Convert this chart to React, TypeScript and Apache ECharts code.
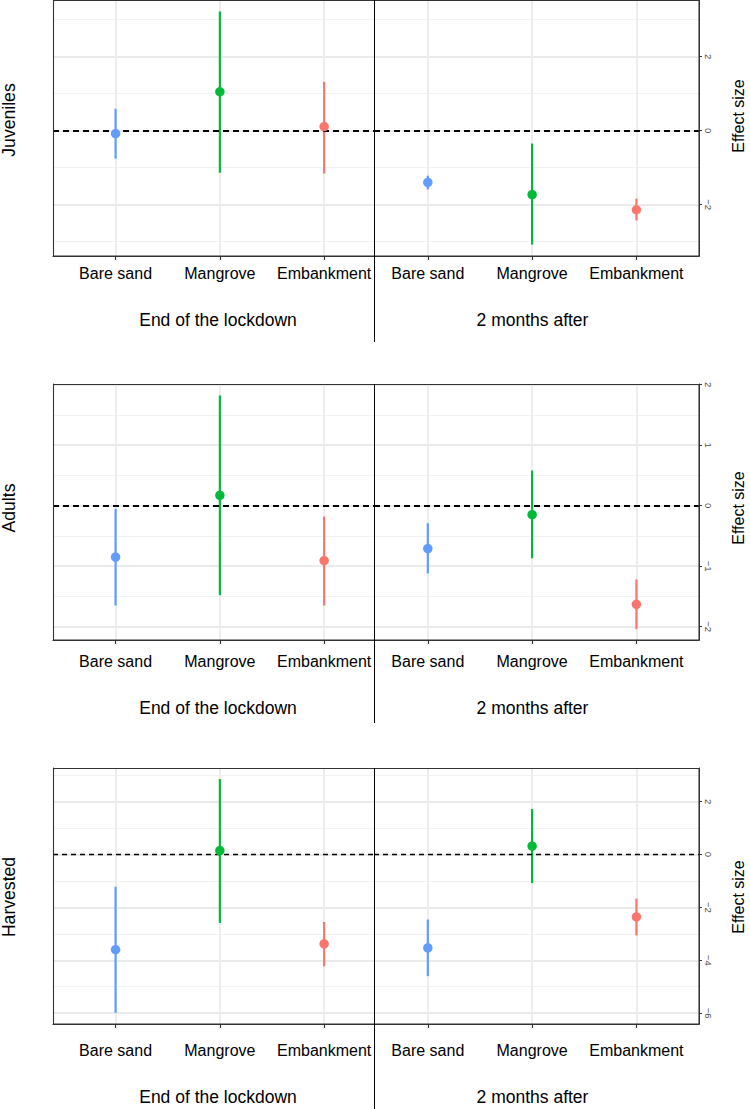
import React, { useEffect, useRef } from "react";
import * as echarts from "echarts";

// ---- data ----
const categories = ["Bare sand", "Mangrove", "Embankment"];
const periods = ["End of the lockdown", "2 months after"];
const groups = ["Juveniles", "Adults", "Harvested"];
const categoryColors = ["#619CFF", "#00BA38", "#F8766D"];

const juvenilesEndEst = [-0.08, 1.05, 0.11];
const juvenilesEndLow = [-0.76, -1.14, -1.16];
const juvenilesEndHigh = [0.59, 3.22, 1.32];
const juvenilesAfterEst = [-1.4, -1.73, -2.14];
const juvenilesAfterLow = [-1.59, -3.08, -2.43];
const juvenilesAfterHigh = [-1.22, -0.35, -1.84];

const adultsEndEst = [-0.85, 0.17, -0.91];
const adultsEndLow = [-1.65, -1.48, -1.65];
const adultsEndHigh = [-0.05, 1.82, -0.18];
const adultsAfterEst = [-0.71, -0.15, -1.63];
const adultsAfterLow = [-1.12, -0.87, -2.04];
const adultsAfterHigh = [-0.29, 0.58, -1.22];

const harvestedEndEst = [-3.6, 0.15, -3.38];
const harvestedEndLow = [-5.99, -2.59, -4.23];
const harvestedEndHigh = [-1.22, 2.85, -2.55];
const harvestedAfterEst = [-3.53, 0.32, -2.36];
const harvestedAfterLow = [-4.6, -1.08, -3.06];
const harvestedAfterHigh = [-2.46, 1.72, -1.67];

const yMins = [-3.39, -2.22, -6.41];
const yMaxs = [3.53, 2.01, 3.27];
const yMajorTicks = [
  [-2, 0, 2],
  [-2, -1, 0, 1, 2],
  [-6, -4, -2, 0, 2],
];
const yMinorTicks = [
  [-3, -1, 1, 3],
  [-1.5, -0.5, 0.5, 1.5],
  [-5, -3, -1, 1, 3],
];
const referenceValue = 0;

// ---- layout ----
const FONT = "Liberation Sans, Arial, Helvetica, sans-serif";
const panelTops = [0, 384, 768];
const panelHeight = 256;
const dividerEnds = [342, 723, 1109];
const xLabelMargins = [9, 13, 18];
const xTitleY = [320, 708, 1097];
const rowLabelY = [120, 508, 897];
const effectLabelY = [116, 508, 897];
const dashWidths = [1.8, 1.8, 1.3];
const dashPatterns = [
  [6, 4],
  [6, 4],
  [5, 4],
];

const panels = [
  [
    { est: juvenilesEndEst, lo: juvenilesEndLow, hi: juvenilesEndHigh },
    { est: juvenilesAfterEst, lo: juvenilesAfterLow, hi: juvenilesAfterHigh },
  ],
  [
    { est: adultsEndEst, lo: adultsEndLow, hi: adultsEndHigh },
    { est: adultsAfterEst, lo: adultsAfterLow, hi: adultsAfterHigh },
  ],
  [
    { est: harvestedEndEst, lo: harvestedEndLow, hi: harvestedEndHigh },
    { est: harvestedAfterEst, lo: harvestedAfterLow, hi: harvestedAfterHigh },
  ],
];

const catPositions = categories.map((_, k) => k + 1);

function buildOption() {
  const grid: any[] = [];
  const xAxis: any[] = [];
  const yAxis: any[] = [];
  const series: any[] = [];
  const graphic: any[] = [];

  groups.forEach((g, r) => {
    [0, 1].forEach((c) => {
      const i = r * 2 + c;
      grid.push(
        c === 0
          ? { left: 53, top: panelTops[r], width: 321, height: panelHeight }
          : { left: 374, top: panelTops[r], width: 325, height: panelHeight }
      );
      xAxis.push({
        gridIndex: i,
        type: "value",
        min: c === 0 ? 0.4 : 0.484,
        max: c === 0 ? 3.478 : 3.6,
        axisLine: { show: true, onZero: false, lineStyle: { color: "#333333", width: 1.2 } },
        axisTick: {
          show: true,
          customValues: catPositions,
          length: 4,
          lineStyle: { color: "#333333", width: 1.2 },
        },
        axisLabel: {
          show: true,
          customValues: catPositions,
          formatter: (v: number) => categories[Math.round(v) - 1] ?? "",
          fontSize: 16,
          color: "#000000",
          fontFamily: FONT,
          margin: xLabelMargins[r],
        },
        splitLine: { show: false },
      });
      yAxis.push(
        c === 0
          ? {
              gridIndex: i,
              type: "value",
              min: yMins[r],
              max: yMaxs[r],
              position: "left",
              axisLine: { show: true, onZero: false, lineStyle: { color: "#333333", width: 1 } },
              axisTick: { show: false },
              axisLabel: { show: false },
              splitLine: { show: false },
            }
          : {
              gridIndex: i,
              type: "value",
              min: yMins[r],
              max: yMaxs[r],
              position: "right",
              axisLine: { show: true, onZero: false, lineStyle: { color: "#333333", width: 1 } },
              axisTick: {
                show: true,
                customValues: yMajorTicks[r],
                length: 3,
                lineStyle: { color: "#333333", width: 1 },
              },
              axisLabel: {
                show: true,
                customValues: yMajorTicks[r],
                rotate: -90,
                fontSize: 9.5,
                color: "#4D4D4D",
                fontFamily: FONT,
                margin: 4,
                formatter: (v: number) => String(v).replace("-", "\u2212"),
              },
              splitLine: { show: false },
            }
      );

      // gridlines
      series.push({
        type: "line",
        xAxisIndex: i,
        yAxisIndex: i,
        data: [],
        silent: true,
        markLine: {
          z: 1,
          silent: true,
          symbol: ["none", "none"],
          label: { show: false },
          emphasis: { disabled: true },
          data: [
            ...yMinorTicks[r].map((v) => ({
              yAxis: v,
              lineStyle: { color: "#F2F2F2", width: 1, type: "solid" },
            })),
            ...yMajorTicks[r].map((v) => ({
              yAxis: v,
              lineStyle: { color: "#EBEBEB", width: 1.8, type: "solid" },
            })),
            ...catPositions.map((v) => ({
              xAxis: v,
              lineStyle: { color: "#EBEBEB", width: 1.8, type: "solid" },
            })),
          ],
        },
      });

      const p = panels[r][c];
      // error bars
      series.push({
        type: "custom",
        xAxisIndex: i,
        yAxisIndex: i,
        z: 2,
        silent: true,
        encode: { x: 0, y: [1, 2] },
        data: categories.map((_, k) => [catPositions[k], p.lo[k], p.hi[k], k]),
        renderItem: (params: any, api: any) => {
          const x = api.value(0);
          const a = api.coord([x, api.value(1)]);
          const b = api.coord([x, api.value(2)]);
          return {
            type: "line",
            shape: { x1: a[0], y1: a[1], x2: b[0], y2: b[1] },
            style: { stroke: categoryColors[api.value(3)], lineWidth: 2.2 },
          };
        },
      });

      // reference dashed line
      series.push({
        type: "line",
        xAxisIndex: i,
        yAxisIndex: i,
        data: [],
        silent: true,
        markLine: {
          z: 3,
          silent: true,
          symbol: ["none", "none"],
          label: { show: false },
          emphasis: { disabled: true },
          data: [
            {
              yAxis: referenceValue,
              lineStyle: { color: "#000000", width: dashWidths[r], type: dashPatterns[r] },
            },
          ],
        },
      });

      // points
      series.push({
        type: "scatter",
        xAxisIndex: i,
        yAxisIndex: i,
        z: 4,
        symbol: "circle",
        symbolSize: 9.5,
        silent: true,
        data: categories.map((_, k) => ({
          value: [catPositions[k], p.est[k]],
          itemStyle: { color: categoryColors[k], opacity: 1 },
        })),
      });

      graphic.push({
        type: "text",
        x: c === 0 ? 218 : 532.5,
        y: xTitleY[r],
        silent: true,
        style: {
          text: periods[c],
          fontSize: 17.5,
          fontFamily: FONT,
          fill: "#000000",
          align: "center",
          verticalAlign: "middle",
        },
      });
    });

    graphic.push({
      type: "rect",
      z: 10,
      silent: true,
      shape: { x: 53.5, y: panelTops[r] + 0.5, width: 645.5, height: panelHeight - 0.5 },
      style: { fill: "none", stroke: "#333333", lineWidth: 1.1 },
    });
    graphic.push({
      type: "line",
      z: 10,
      silent: true,
      shape: { x1: 374.5, y1: panelTops[r], x2: 374.5, y2: dividerEnds[r] },
      style: { stroke: "#000000", lineWidth: 1 },
    });
    graphic.push({
      type: "text",
      x: 9,
      y: rowLabelY[r],
      rotation: Math.PI / 2,
      silent: true,
      style: {
        text: g,
        fontSize: 17.6,
        fontFamily: FONT,
        fill: "#000000",
        align: "center",
        verticalAlign: "middle",
      },
    });
    graphic.push({
      type: "text",
      x: 738,
      y: effectLabelY[r],
      rotation: Math.PI / 2,
      silent: true,
      style: {
        text: "Effect size",
        fontSize: 16,
        fontFamily: FONT,
        fill: "#000000",
        align: "center",
        verticalAlign: "middle",
      },
    });
  });

  return {
    animation: false,
    backgroundColor: "#FFFFFF",
    textStyle: { fontFamily: FONT },
    grid,
    xAxis,
    yAxis,
    series,
    graphic,
  };
}

export default function App() {
  const ref = useRef<HTMLDivElement>(null);
  useEffect(() => {
    if (!ref.current) return;
    const chart = echarts.init(ref.current, null, { renderer: "svg" });
    chart.setOption(buildOption() as any);
    return () => chart.dispose();
  }, []);
  return (
    <div
      ref={ref}
      style={{ position: "absolute", left: 0, top: 0, width: 750, height: 1109, background: "#fff" }}
    />
  );
}
